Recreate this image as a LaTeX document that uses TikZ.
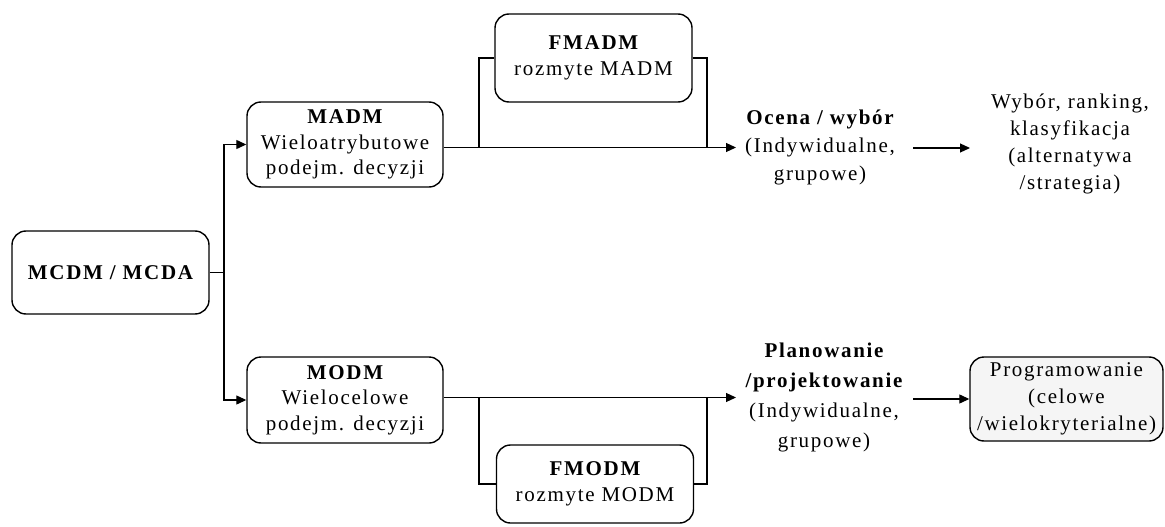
\documentclass[tikz,border=0pt]{standalone}
\usepackage{fontspec}
\setmainfont{Liberation Serif}
\usetikzlibrary{arrows.meta}
\begin{document}
\begin{tikzpicture}[x=1pt,y=-1pt,
  box/.style={draw, line width=1.4pt, rounded corners=14pt, align=center, inner sep=0pt,
    font=\fontsize{21}{25.5}\selectfont\addfontfeature{LetterSpace=8}},
  lbl/.style={align=center, inner sep=0pt, font=\fontsize{21}{28}\selectfont\addfontfeature{LetterSpace=8}},
  conn/.style={line width=1.2pt},
  arr/.style={line width=1.2pt, -{Triangle[length=10pt,width=9pt]}}]
\useasboundingbox (0,0) rectangle (1165,527);
\node[box, minimum width=197pt, minimum height=83pt] (mcdm) at (110.5,272.5) {\bfseries MCDM / MCDA};
\node[box, minimum width=196pt, minimum height=85pt] (madm) at (345,144.5) {{\bfseries MADM}\\Wieloatrybutowe\\podejm. decyzji};
\node[box, minimum width=196pt, minimum height=86pt] (modm) at (345,400) {{\bfseries MODM}\\Wielocelowe\\podejm. decyzji};
\node[box, minimum width=197pt, minimum height=88pt] (fmadm) at (593.5,58) {{\bfseries FMADM}\\rozmyte MADM};
\node[box, minimum width=197pt, minimum height=78pt] (fmodm) at (595,484) {{\bfseries FMODM}\\rozmyte MODM};
\node[lbl] (ocena) at (820,147) {{\bfseries Ocena / wybór}\\(Indywidualne,\\grupowe)};
\node[lbl, font=\fontsize{21}{30}\selectfont\addfontfeature{LetterSpace=8}] (plan) at (824,397) {{\bfseries Planowanie}\\{\bfseries /projektowanie}\\(Indywidualne,\\grupowe)};
\node[lbl, font=\fontsize{21}{27}\selectfont\addfontfeature{LetterSpace=8}] (wybor) at (1070,144) {Wybór, ranking,\\klasyfikacja\\(alternatywa\\/strategia)};
\node[box, fill=black!4, minimum width=193pt, minimum height=84pt,
  font=\fontsize{21}{27}\selectfont\addfontfeature{LetterSpace=8}] (prog) at (1066.5,399) {Programowanie\\(celowe\\/wielokryterialne)};
% junction
\coordinate (j) at (224,272.5);
\draw[conn] (mcdm.east) -- (j);
\draw[arr] (j) |- (madm.west);
\draw[arr] (j) |- (modm.west);
% upper main line
\coordinate (a1) at (736,147.5);
\coordinate (b1) at (479,0);
\coordinate (b2) at (707,0);
\draw[arr] (madm.east |- a1) -- (a1);
\draw[conn] (a1 -| b1) |- (fmadm.west);
\draw[conn] (fmadm.east) -| (a1 -| b2);
% lower main line
\coordinate (a2) at (736,397.5);
\draw[arr] (modm.east |- a2) -- (a2);
\draw[conn] (a2 -| b1) |- (fmodm.west);
\draw[conn] (fmodm.east) -| (a2 -| b2);
% short arrows
\coordinate (c1) at (913,148);
\coordinate (c2) at (970,148);
\draw[arr] (c1) -- (c2);
\coordinate (c3) at (913,399);
\draw[arr] (c3) -- (prog.west);
\end{tikzpicture}
\end{document}
